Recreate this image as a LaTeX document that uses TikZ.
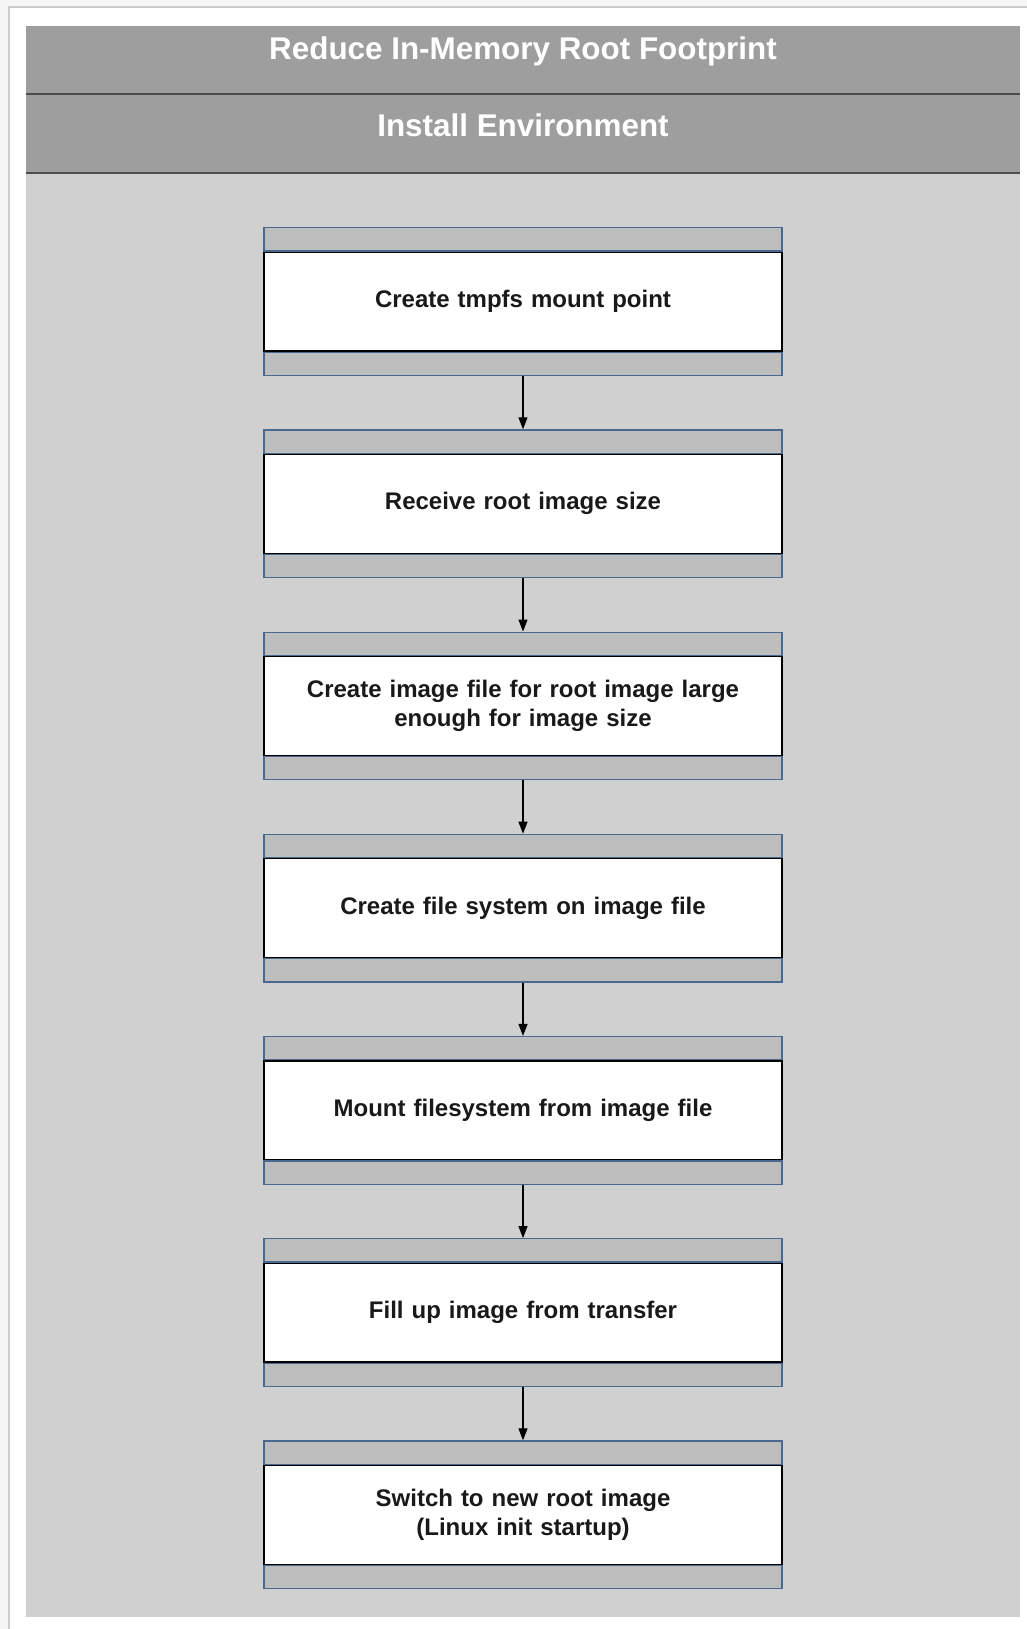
\documentclass[tikz,border=0pt]{standalone}
\usepackage{fontspec}
\setmainfont{Liberation Sans}
\usetikzlibrary{positioning,arrows.meta,backgrounds}

\definecolor{bandgray}{RGB}{158,158,158}
\definecolor{lanegray}{RGB}{208,208,208}
\definecolor{stripgray}{RGB}{189,189,189}
\definecolor{edgeblue}{RGB}{72,104,142}

\tikzset{
	stepbox/.style={draw=black, line width=0.6pt, fill=white, minimum width=259pt, minimum height=49.4pt, inner sep=0pt, text width=250pt, align=center, font=\fontsize{12}{14.5}\selectfont\bfseries, text=black!90},
	stepbar/.style={draw=edgeblue, line width=0.6pt, fill=stripgray, minimum width=259pt, minimum height=11.6pt, inner sep=0pt},
	headtext/.style={anchor=base, text=white, font=\fontsize{15.7}{18}\selectfont\bfseries},
	flow/.style={-{Triangle[length=6pt,width=4.5pt]}, line width=0.6pt}
}

\begin{document}
\begin{tikzpicture}[x=0.5pt, y=-0.5pt]
		%%%%% START %%%%%
		
		\useasboundingbox (0, 0) rectangle (1027, 1629);
		
		\begin{scope}[on background layer]
			\fill[black!4] (0, 0) rectangle (1027, 1629);
			\fill[white] (9, 7) rectangle (1027, 1629);
			\draw[black!20, line width=1pt] (9, 1629) -- (9, 7) -- (1027, 7);
			
			\fill[lanegray] (26, 173) rectangle (1020, 1617);
			\fill[bandgray] (26, 26) rectangle (1020, 173);
			\draw[black!70, line width=0.7pt] (26, 94) -- (1020, 94);
			\draw[black!70, line width=0.7pt] (26, 173) -- (1020, 173);
		\end{scope}
		
		\node[headtext] (title) at (523, 59) {Reduce In-Memory Root Footprint};
		\node[headtext] (lane) at (523, 136) {Install Environment};
		
		\node[stepbox] (tmpfs) at (523, 301.5) {Create tmpfs mount point};
		\node[stepbox, below=51.1pt of tmpfs] (rootsize) {Receive root image size};
		\node[stepbox, below=51.1pt of rootsize] (imgfile) {Create image file for root image large\\enough for image size};
		\node[stepbox, below=51.1pt of imgfile] (mkfs) {Create file system on image file};
		\node[stepbox, below=51.1pt of mkfs] (mountfs) {Mount filesystem from image file};
		\node[stepbox, below=51.1pt of mountfs] (fillup) {Fill up image from transfer};
		\node[stepbox, below=51.1pt of fillup] (switchroot) {Switch to new root image\\(Linux init startup)};
		
		\begin{scope}[on background layer]
			\foreach \n in {tmpfs, rootsize, imgfile, mkfs, mountfs, fillup, switchroot} {
				\node[stepbar, above=0pt of \n] (\n-top) {};
				\node[stepbar, below=0pt of \n] (\n-bot) {};
			}
		\end{scope}
		
		\draw[flow] (tmpfs-bot) -- (rootsize-top);
		\draw[flow] (rootsize-bot) -- (imgfile-top);
		\draw[flow] (imgfile-bot) -- (mkfs-top);
		\draw[flow] (mkfs-bot) -- (mountfs-top);
		\draw[flow] (mountfs-bot) -- (fillup-top);
		\draw[flow] (fillup-bot) -- (switchroot-top);
		
		%%%%% END %%%%%
\end{tikzpicture}
\end{document}
